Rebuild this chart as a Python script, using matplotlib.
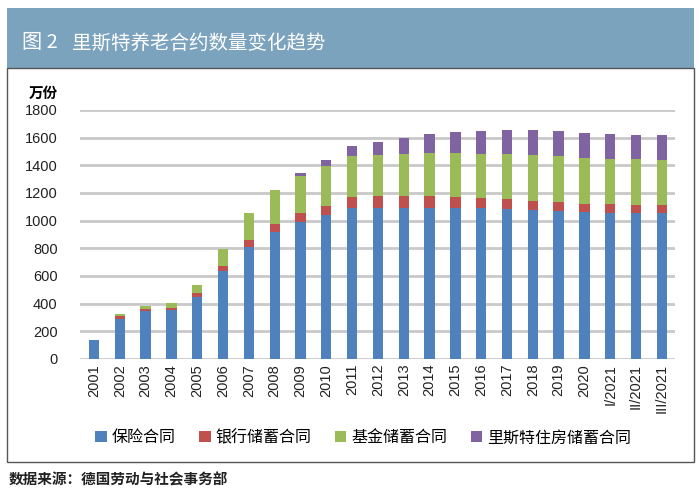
import numpy as np
import matplotlib
matplotlib.use("Agg")
import matplotlib.pyplot as plt
from matplotlib.patches import Rectangle

plt.rcParams['font.family'] = ['Liberation Sans', 'Noto Sans CJK SC', 'DejaVu Sans']

# 数据（万份）
years = [str(y) for y in range(2001, 2021)] + ['I/2021', 'II/2021', 'III/2021']
insurance = [140, 290, 344, 351, 448, 634, 811, 915, 993, 1041, 1090, 1094,
             1094, 1094, 1092, 1090, 1082, 1075, 1070, 1065, 1058, 1053, 1053]
bank = [0, 17, 14, 17, 31, 37, 49, 58, 60, 68, 79, 83, 83, 83, 81, 72, 73,
        70, 66, 54, 61, 63, 58]
fund = [0, 20, 27, 34, 54, 123, 193, 247, 271, 283, 301, 300, 305, 310, 313,
        322, 324, 327, 329, 334, 329, 330, 330]
housing = [0, 0, 0, 0, 0, 0, 0, 0, 17, 49, 67, 94, 114, 140, 155, 167, 175,
           182, 181, 181, 179, 176, 176]
series_names = ['保险合同', '银行储蓄合同', '基金储蓄合同', '里斯特住房储蓄合同']
colors = ['#4F81BD', '#C0504D', '#9BBB59', '#8064A2']

fig = plt.figure(figsize=(7, 4.93), dpi=100)

# 标题栏和外框
fig.patches.append(Rectangle((0.01, 0.862), 0.981, 0.122, transform=fig.transFigure,
                             facecolor='#7BA3BE', edgecolor='none', zorder=0))
fig.patches.append(Rectangle((0.01, 0.063), 0.981, 0.799, transform=fig.transFigure,
                             facecolor='none', edgecolor='#555555', linewidth=1.0, zorder=0))
fig.text(0.031, 0.913, '图 2', color='white', fontsize=14.5,
         va='center', ha='left', family=['Noto Sans CJK SC'])
fig.text(0.103, 0.913, '里斯特养老合约数量变化趋势', color='white', fontsize=14,
         va='center', ha='left', family=['Noto Sans CJK SC'])
fig.text(0.012, 0.028, '数据来源：德国劳动与社会事务部', color='#222222', fontsize=10.5,
         va='center', ha='left', family=['Noto Sans CJK SC'], fontweight='bold')

ax = fig.add_axes([0.114, 0.272, 0.85, 0.505])
x = np.arange(len(years))
bottom = np.zeros(len(years))
for vals, name, c in zip([insurance, bank, fund, housing], series_names, colors):
    ax.bar(x, vals, width=0.4, bottom=bottom, color=c, label=name, zorder=3)
    bottom += np.array(vals)

ax.set_ylim(0, 1800)
ax.set_xlim(-0.55, 22.5)
ax.set_yticks(range(0, 1801, 200))
ax.yaxis.grid(True, color='#C9C9C9', linewidth=2, zorder=0)
ax.set_axisbelow(True)
for s in ax.spines.values():
    s.set_visible(False)
ax.tick_params(axis='both', length=0, labelsize=10.5, colors='#222222')
ax.tick_params(axis='y', pad=16)
ax.set_xticks(x)
ax.set_xticklabels(years, rotation=90, fontsize=10.5)
ax.text(-0.062, 1.035, '万份', transform=ax.transAxes, fontsize=10.5,
        ha='center', va='bottom', family=['Noto Sans CJK SC'], fontweight='bold')

fig.legend(loc='center', bbox_to_anchor=(0.519, 0.112), ncol=4, frameon=False,
           handlelength=0.7, handleheight=0.7, columnspacing=1.5, handletextpad=0.3,
           prop={'family': 'Noto Sans CJK SC', 'size': 11.5})

fig.savefig('out.png', dpi=100)
